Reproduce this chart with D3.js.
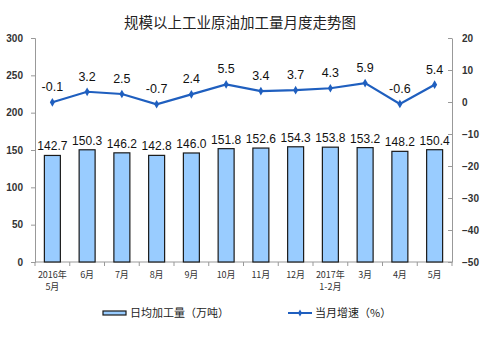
<!DOCTYPE html>
<html>
<head>
<meta charset="utf-8">
<script src="https://cdn.jsdelivr.net/npm/d3@7/dist/d3.min.js"></script>
<style>
  body { margin: 0; background: #fff; }
  svg { display: block; font-family: "Noto Sans CJK SC", "DejaVu Sans", sans-serif; }
</style>
</head>
<body>
<svg id="chart" width="500" height="344"></svg>
<script>
// Monthly crude oil processing volume of industrial enterprises above designated size
const categories = [["2016年", "5月"], ["6月"], ["7月"], ["8月"], ["9月"], ["10月"], ["11月"], ["12月"], ["2017年", "1-2月"], ["3月"], ["4月"], ["5月"]];
const dailyVolume = [142.7, 150.3, 146.2, 142.8, 146.0, 151.8, 152.6, 154.3, 153.8, 153.2, 148.2, 150.4];
const monthlyGrowth = [-0.1, 3.2, 2.5, -0.7, 2.4, 5.5, 3.4, 3.7, 4.3, 5.9, -0.6, 5.4];
const leftTicks = [0, 50, 100, 150, 200, 250, 300];
const rightTicks = [-50, -40, -30, -20, -10, 0, 10, 20];

const svg = d3.select("#chart");
const m = { left: 35, right: 452, top: 38, bottom: 262 };

const x = d3.scaleBand().domain(d3.range(categories.length)).range([m.left, m.right]).paddingInner(0.54).paddingOuter(0.27);
const yL = d3.scaleLinear().domain([0, 300]).range([m.bottom, m.top]);
const yR = d3.scaleLinear().domain([-50, 20]).range([m.bottom, m.top]);

// Title
svg.append("text").attr("x", 240).attr("y", 28).attr("text-anchor", "middle")
  .attr("font-size", 14.5).attr("fill", "#222").text("规模以上工业原油加工量月度走势图");

// Left axis
const axL = svg.append("g").attr("transform", `translate(${m.left},0)`)
  .call(d3.axisLeft(yL).tickValues(leftTicks).tickSize(4).tickPadding(8));
axL.select(".domain").attr("stroke", "#999");
axL.selectAll(".tick line").attr("stroke", "#999");
axL.selectAll("text").attr("font-size", 10).attr("font-family", "Liberation Sans, Arial, sans-serif").attr("font-weight", "bold").attr("fill", "#333");

// Right axis
const axR = svg.append("g").attr("transform", `translate(${m.right},0)`)
  .call(d3.axisRight(yR).tickValues(rightTicks).tickSizeInner(-4).tickSizeOuter(0).tickPadding(10));
axR.select(".domain").attr("stroke", "#999");
axR.selectAll(".tick line").attr("stroke", "#999");
axR.selectAll("text").attr("font-size", 10).attr("font-family", "Liberation Sans, Arial, sans-serif").attr("font-weight", "bold").attr("fill", "#333");

// Bottom baseline with boundary ticks
svg.append("line").attr("x1", m.left).attr("x2", m.right).attr("y1", m.bottom).attr("y2", m.bottom).attr("stroke", "#999");
d3.range(categories.length + 1).forEach(i => {
  const bx = m.left + (m.right - m.left) * i / categories.length;
  svg.append("line").attr("x1", bx).attr("x2", bx).attr("y1", m.bottom).attr("y2", m.bottom + 4).attr("stroke", "#999");
});

// Category labels, one text per line
const catG = svg.append("g");
categories.forEach((lines, i) => {
  lines.forEach((s, j) => {
    catG.append("text").attr("x", x(i) + x.bandwidth() / 2).attr("y", m.bottom + 16 + j * 12)
      .attr("text-anchor", "middle").attr("font-size", 9).attr("fill", "#333").text(s);
  });
});

// Bars
svg.append("g").selectAll("rect").data(dailyVolume).join("rect")
  .attr("x", (d, i) => x(i)).attr("width", x.bandwidth())
  .attr("y", d => yL(d)).attr("height", d => yL(0) - yL(d))
  .attr("fill", "#99CCFF").attr("stroke", "#1a1a1a").attr("stroke-width", 1.2);

svg.append("g").selectAll("text").data(dailyVolume).join("text")
  .attr("x", (d, i) => x(i) + x.bandwidth() / 2).attr("y", d => yL(d) - 5)
  .attr("text-anchor", "middle").attr("font-size", 12).attr("font-family", "Liberation Sans, Arial, sans-serif")
  .attr("fill", "#111").text(d => d.toFixed(1));

// Growth line
const cx = i => x(i) + x.bandwidth() / 2;
const lineColor = "#1F5FBF";
svg.append("path").datum(monthlyGrowth)
  .attr("d", d3.line().x((d, i) => cx(i)).y(d => yR(d)))
  .attr("fill", "none").attr("stroke", lineColor).attr("stroke-width", 2.2);
svg.append("g").selectAll("path").data(monthlyGrowth).join("path")
  .attr("transform", (d, i) => `translate(${cx(i)},${yR(d)})`)
  .attr("d", d3.symbol(d3.symbolDiamond, 22)).attr("fill", lineColor);
svg.append("g").selectAll("text").data(monthlyGrowth).join("text")
  .attr("x", (d, i) => cx(i)).attr("y", d => yR(d) - 11)
  .attr("text-anchor", "middle").attr("font-size", 12.5).attr("font-family", "Liberation Sans, Arial, sans-serif")
  .attr("fill", "#111").text(d => d.toFixed(1));

// Legend
const lg = svg.append("g");
lg.append("rect").attr("x", 103).attr("y", 311).attr("width", 23).attr("height", 4)
  .attr("fill", "#99CCFF").attr("stroke", "#1a1a1a").attr("stroke-width", 1.2);
lg.append("text").attr("x", 130).attr("y", 317).attr("font-size", 11).attr("fill", "#222").text("日均加工量（万吨）");
lg.append("line").attr("x1", 288).attr("x2", 312).attr("y1", 313).attr("y2", 313).attr("stroke", lineColor).attr("stroke-width", 2);
lg.append("path").attr("transform", "translate(300,313)").attr("d", d3.symbol(d3.symbolDiamond, 14)).attr("fill", lineColor);
lg.append("text").attr("x", 315).attr("y", 317).attr("font-size", 11).attr("fill", "#222").text("当月增速（%）");
</script>
</body>
</html>
